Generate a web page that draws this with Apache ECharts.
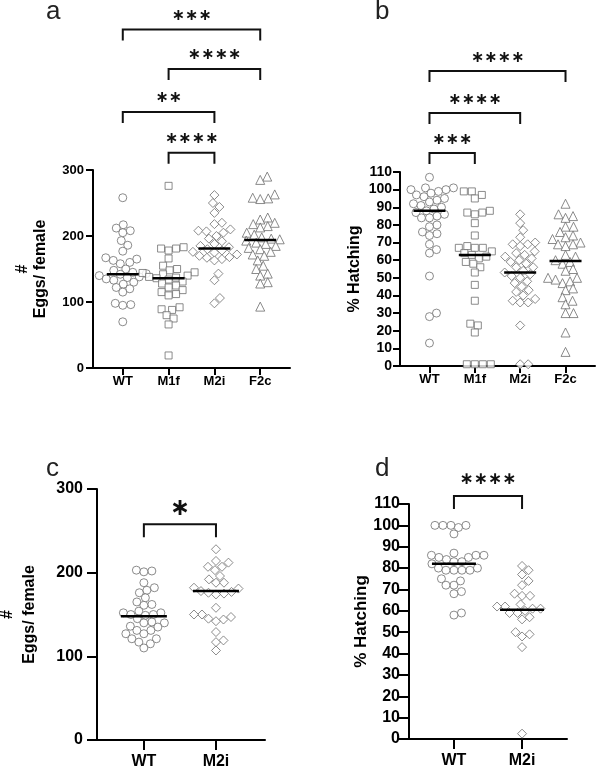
<!DOCTYPE html>
<html>
<head>
<meta charset="utf-8">
<script src="https://cdn.jsdelivr.net/npm/echarts@6/dist/echarts.min.js"></script>
<style>
  html, body { margin: 0; padding: 0; background: #fff; }
  #chart { width: 597px; height: 772px; }
</style>
</head>
<body>
<div id="chart"></div>
<script>
// categories
const groupsAB = ["WT", "M1f", "M2i", "F2c"];
const groupsCD = ["WT", "M2i"];

// a: eggs per female
const eggsA_WT = [258, 217, 212, 208, 205, 193, 186, 177, 167, 165, 163, 160, 158, 150, 148, 145, 143, 142, 140, 138, 137, 135, 133, 130, 127, 122, 120, 115, 98, 96, 95, 70];
const eggsA_M1f = [276, 183, 181, 181, 178, 166, 155, 150, 148, 145, 144, 142, 140, 138, 137, 136, 134, 131, 128, 125, 122, 118, 115, 112, 110, 92, 89, 88, 80, 75, 66, 19];
const eggsA_M2i = [262, 250, 244, 235, 220, 218, 210, 208, 207, 205, 200, 196, 192, 188, 185, 183, 180, 178, 176, 175, 172, 170, 168, 167, 165, 163, 143, 133, 106, 98];
const eggsA_F2c = [290, 285, 263, 258, 257, 256, 228, 225, 220, 218, 215, 213, 205, 202, 198, 196, 195, 193, 190, 188, 185, 182, 180, 176, 172, 170, 163, 155, 150, 143, 140, 130, 128, 93];
const medEggsA = [142, 136, 181, 194];

// b: % hatching
const hatchB_WT = [107, 101, 101, 100, 100, 99, 98, 97, 96, 95, 94, 93, 92, 91, 90, 89, 88, 87, 86, 85, 84, 84, 80, 79, 76, 75, 74, 69, 66, 64, 51, 30, 28, 13];
const hatchB_M1f = [99, 99, 97, 95, 88, 87, 87, 86, 81, 74, 68, 67, 67, 67, 65, 64, 63, 62, 61, 59, 58, 56, 53, 46, 37, 24, 23, 19, 1, 1, 1, 1];
const hatchB_M2i = [86, 81, 77, 73, 70, 69, 69, 68, 65, 64, 63, 62, 61, 60, 59, 58, 56, 56, 54, 53, 52, 51, 50, 48, 47, 45, 43, 42, 40, 38, 37, 36, 36, 23, 1, 1];
const hatchB_F2c = [92, 86, 85, 84, 79, 79, 76, 74, 73, 72, 70, 69, 69, 68, 63, 62, 60, 59, 58, 55, 54, 50, 50, 49, 48, 47, 44, 43, 39, 37, 35, 30, 30, 19, 8];
const medHatchB = [88, 63, 53, 59.5];

// c: eggs per female
const eggsC_WT = [203, 202, 201, 188, 182, 179, 176, 170, 165, 162, 161, 154, 152, 152, 150, 150, 149, 145, 141, 140, 140, 136, 135, 131, 131, 127, 127, 121, 121, 117, 115, 110];
const eggsC_M2i = [228, 214, 212, 207, 207, 203, 196, 192, 188, 188, 182, 181, 178, 177, 176, 175, 174, 158, 150, 150, 147, 145, 144, 142, 129, 119, 117, 107];
const medEggsC = [148, 178];

// d: % hatching
const hatchD_WT = [100, 100, 100, 100, 99, 96, 87, 86, 86, 86, 85, 85, 84, 83, 83, 82, 80, 80, 79, 79, 79, 79, 75, 74, 72, 72, 69, 68, 59, 58];
const hatchD_M2i = [81, 79, 77, 74, 72, 68, 67, 67, 63, 62, 62, 61, 61, 60, 59, 59, 57, 56, 50, 49, 48, 43, 2.5];
const medHatchD = [82, 60.5];

// significance brackets [from, to, stars]
const sigA = [[1, 4, "∗∗∗"], [2, 4, "∗∗∗∗"], [1, 3, "∗∗"], [2, 3, "∗∗∗∗"]];
const sigB = [[1, 4, "∗∗∗∗"], [1, 3, "∗∗∗∗"], [1, 2, "∗∗∗"]];
const sigC = [[1, 2, "∗"]];
const sigD = [[1, 2, "∗∗∗∗"]];

const FONT = "'Liberation Sans', Arial, sans-serif";

const panels = [
  {
    grid: { left: 93, top: 170, width: 197, height: 198 },
    xMin: 0.35, xMax: 4.65, yMax: 300, yInt: 100,
    groups: groupsAB, sets: [eggsA_WT, eggsA_M1f, eggsA_M2i, eggsA_F2c],
    symbols: ["circle", "rect", "diamond", "triangle"],
    medians: medEggsA, medHalf: 16,
    sig: sigA, levels: [513, 453, 388, 326], leg: 11, textGap: 14, starSize: 16,
    name: "{h|#}\n{t|Eggs/ female}", nameGap: 43, nameSize: 16, nameLH: 18,
    tickLen: 7, tickFont: 13, labelMargin: 9, xFont: 13, xMargin: 7
  },
  {
    grid: { left: 400, top: 172, width: 195, height: 194 },
    xMin: 0.35, xMax: 4.65, yMax: 110, yInt: 10,
    groups: groupsAB, sets: [hatchB_WT, hatchB_M1f, hatchB_M2i, hatchB_F2c],
    symbols: ["circle", "rect", "diamond", "triangle"],
    medians: medHatchB, medHalf: 16,
    sig: sigB, levels: [167.3, 143.5, 120.8], leg: 11, textGap: 13, starSize: 16,
    name: "{t|% Hatching}", nameGap: 36, nameSize: 16, nameLH: 18,
    tickLen: 7, tickFont: 14, labelMargin: 8, xFont: 13, xMargin: 7
  },
  {
    grid: { left: 97, top: 489, width: 168, height: 251 },
    xMin: 0.35, xMax: 2.68, yMax: 300, yInt: 100,
    groups: groupsCD, sets: [eggsC_WT, eggsC_M2i],
    symbols: ["circle", "diamond"],
    medians: medEggsC, medHalf: 23,
    sig: sigC, levels: [258], leg: 13, textGap: 15, starSize: 24,
    name: "{h|#}\n{t|Eggs/ female}", nameGap: 56, nameSize: 16, nameLH: 22,
    tickLen: 10, tickFont: 16, labelMargin: 14, xFont: 16, xMargin: 14
  },
  {
    grid: { left: 409, top: 504, width: 158, height: 235 },
    xMin: 0.34, xMax: 2.66, yMax: 110, yInt: 10,
    groups: groupsCD, sets: [hatchD_WT, hatchD_M2i],
    symbols: ["circle", "diamond"],
    medians: medHatchD, medHalf: 22,
    sig: sigD, levels: [113.8], leg: 13, textGap: 16, starSize: 17,
    name: "{t|% Hatching}", nameGap: 30, nameSize: 17, nameLH: 18,
    tickLen: 10, tickFont: 16, labelMargin: 9, xFont: 16, xMargin: 14
  }
];

// simple beeswarm: spread points sideways (in px) so markers don't overlap
function swarm(values, pxPerUnit, d) {
  const order = values.map((v, i) => i).sort((a, b) => values[a] - values[b]);
  const placed = [];
  const offs = [];
  order.forEach(i => {
    const y = values[i] * pxPerUnit;
    let x = 0;
    for (let k = 0; k < 400; k++) {
      const c = k === 0 ? 0 : (k % 2 ? 1 : -1) * Math.ceil(k / 2) * 0.5;
      if (placed.every(p => (p[0] - c) ** 2 + (p[1] - y) ** 2 >= d * d)) { x = c; break; }
    }
    placed.push([x, y]);
    offs[i] = x;
  });
  return offs;
}

const grids = [], xAxes = [], yAxes = [], series = [];

panels.forEach((p, pi) => {
  grids.push(Object.assign({ outerBoundsMode: "none", containLabel: false }, p.grid));
  const ticks = p.groups.map((g, i) => i + 1);
  xAxes.push({
    gridIndex: pi, type: "value", min: p.xMin, max: p.xMax,
    splitLine: { show: false },
    axisLine: { onZero: false, lineStyle: { color: "#000", width: 2 } },
    axisTick: { customValues: ticks, length: p.tickLen, lineStyle: { color: "#000", width: 2 } },
    axisLabel: {
      customValues: ticks, margin: p.xMargin,
      formatter: v => p.groups[Math.round(v) - 1] || "",
      color: "#000", fontWeight: "bold", fontSize: p.xFont, fontFamily: FONT
    }
  });
  yAxes.push({
    gridIndex: pi, type: "value", min: 0, max: p.yMax, interval: p.yInt,
    name: p.name, nameLocation: "middle", nameRotate: 90, nameGap: p.nameGap,
    nameTextStyle: {
      color: "#000", fontFamily: FONT, align: "center",
      rich: {
        h: { fontSize: p.nameSize, fontWeight: "bold", lineHeight: p.nameLH, fontFamily: FONT, color: "#000" },
        t: { fontSize: p.nameSize, fontWeight: "bold", lineHeight: p.nameLH, fontFamily: FONT, color: "#000" }
      }
    },
    splitLine: { show: false },
    axisLine: { show: true, onZero: false, lineStyle: { color: "#000", width: 2 } },
    axisTick: { show: true, length: p.tickLen, lineStyle: { color: "#000", width: 2 } },
    axisLabel: { margin: p.labelMargin, color: "#000", fontWeight: "bold", fontSize: p.tickFont, fontFamily: FONT }
  });

  const pxX = p.grid.width / (p.xMax - p.xMin);
  const pxY = p.grid.height / p.yMax;

  p.sets.forEach((vals, gi) => {
    const offs = swarm(vals, pxY, 7.6);
    const sym = p.symbols[gi];
    series.push({
      type: "scatter", xAxisIndex: pi, yAxisIndex: pi,
      symbol: sym,
      symbolSize: sym === "rect" ? 7 : sym === "triangle" ? 9 : sym === "diamond" ? 9 : 8,
      itemStyle: { color: "#fff", borderColor: "#6e6e6e", borderWidth: 1 },
      clip: false,
      data: vals.map((v, j) => [gi + 1 + offs[j] / pxX, v]),
      z: 2
    });
  });

  // median lines
  series.push({
    type: "custom", xAxisIndex: pi, yAxisIndex: pi, z: 5,
    data: p.medians.map((m, i) => [i + 1, m]),
    encode: { x: 0, y: 1 },
    renderItem: (params, api) => {
      const c = api.coord([api.value(0), api.value(1)]);
      return {
        type: "line",
        shape: { x1: c[0] - p.medHalf, y1: c[1], x2: c[0] + p.medHalf, y2: c[1] },
        style: { stroke: "#000", lineWidth: 2.5 }
      };
    }
  });

  // significance brackets
  series.push({
    type: "custom", xAxisIndex: pi, yAxisIndex: pi, z: 5, clip: false,
    data: p.sig.map((s, i) => [s[0], p.levels[i], s[1]]),
    encode: { x: 0, y: 1 },
    renderItem: (params, api) => {
      const s = p.sig[params.dataIndex];
      const a = api.coord([s[0], api.value(1)]);
      const b = api.coord([s[1], api.value(1)]);
      return {
        type: "group",
        children: [
          {
            type: "polyline",
            shape: { points: [[a[0], a[1] + p.leg], [a[0], a[1]], [b[0], b[1]], [b[0], b[1] + p.leg]] },
            style: { stroke: "#111", lineWidth: 2, fill: null }
          },
          {
            type: "text",
            x: (a[0] + b[0]) / 2, y: a[1] - p.textGap,
            style: {
              text: s[2], fill: "#111", align: "center", verticalAlign: "middle",
              font: "bold " + p.starSize + "px 'DejaVu Sans', sans-serif"
            }
          }
        ]
      };
    }
  });
});

const letterStyle = { fontSize: 26, fontWeight: "normal", color: "#222", fontFamily: FONT };

const chart = echarts.init(document.getElementById("chart"), null, { renderer: "canvas" });
chart.setOption({
  backgroundColor: "#fff",
  animation: false,
  textStyle: { fontFamily: FONT },
  title: [
    { text: "a", left: 46, top: -1, padding: 0, textStyle: letterStyle },
    { text: "b", left: 375, top: -1, padding: 0, textStyle: letterStyle },
    { text: "c", left: 46, top: 456, padding: 0, textStyle: letterStyle },
    { text: "d", left: 375, top: 456, padding: 0, textStyle: letterStyle }
  ],
  grid: grids,
  xAxis: xAxes,
  yAxis: yAxes,
  series: series
});
</script>
</body>
</html>
